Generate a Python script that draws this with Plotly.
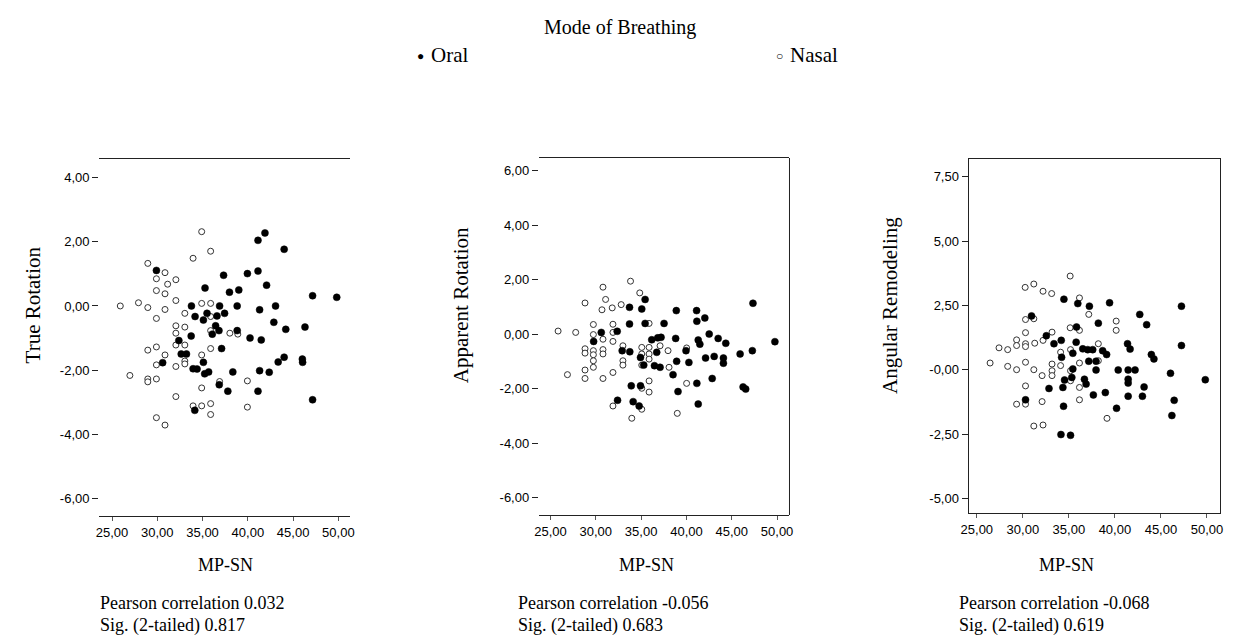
import plotly.graph_objects as go

# ---------------- data ----------------
p1_oral_x = [41.89,41.12,44.01,37.32,39.95,41.12,42.07,29.90,35.27,37.97,39.00,47.15,49.82,33.77,36.88,38.82,41.30,43.06,34.17,35.49,35.09,36.59,37.43,42.87,44.19,46.31,36.44,36.81,36.07,38.82,33.74,40.24,41.48,32.38,37.10,32.64,33.22,30.59,35.09,43.35,44.01,46.02,46.05,33.95,34.39,35.23,35.67,38.34,41.30,42.36,36.84,37.79,41.12,47.15,34.14]
p1_oral_y = [2.28,2.05,1.77,0.96,1.01,1.09,0.65,1.11,0.56,0.43,0.50,0.32,0.27,0.00,0.00,0.00,-0.12,0.00,-0.33,-0.23,-0.44,-0.31,-0.23,-0.51,-0.73,-0.66,-0.62,-0.77,-0.88,-0.77,-0.94,-1.00,-1.06,-1.08,-1.33,-1.50,-1.50,-1.77,-1.76,-1.75,-1.60,-1.66,-1.76,-1.96,-1.97,-2.12,-2.06,-2.06,-2.02,-2.07,-2.46,-2.66,-2.66,-2.93,-3.26]
p1_nasal_x = [34.90,35.89,33.95,28.95,30.85,29.90,32.05,31.14,29.90,30.85,32.05,25.91,27.92,28.95,30.85,34.90,35.89,33.04,29.90,35.89,32.05,33.04,32.05,35.89,38.01,38.89,32.05,33.04,28.95,29.90,30.85,34.90,35.89,29.90,33.04,33.04,32.05,26.97,28.95,28.95,29.90,36.88,39.95,34.90,32.05,33.95,34.90,35.89,35.89,39.95,29.90,30.85]
p1_nasal_y = [2.32,1.71,1.49,1.33,1.04,0.85,0.82,0.68,0.48,0.38,0.17,0.00,0.10,-0.05,-0.11,0.08,0.08,-0.23,-0.39,-0.33,-0.62,-0.66,-0.85,-0.77,-0.85,-0.88,-1.22,-1.22,-1.38,-1.28,-1.53,-1.53,-1.33,-1.84,-1.72,-1.81,-1.89,-2.17,-2.28,-2.37,-2.28,-2.36,-2.34,-2.56,-2.83,-3.12,-3.12,-3.05,-3.39,-3.16,-3.49,-3.72]

p2_oral_x = [35.44,33.72,35.07,38.88,41.12,41.15,42.03,47.34,33.72,35.44,37.53,30.60,32.36,29.76,36.17,36.83,37.20,38.81,41.30,41.48,42.51,43.50,44.34,32.91,33.75,36.72,34.93,35.29,36.47,37.09,38.92,39.95,40.27,42.11,43.06,44.08,44.08,45.92,47.27,49.76,38.52,39.07,41.15,42.84,33.91,34.93,32.40,34.12,34.78,41.30,46.25,46.54]
p2_oral_y = [1.28,0.99,0.93,0.87,0.87,0.48,0.60,1.14,0.38,0.40,0.40,0.07,0.11,-0.26,-0.20,-0.13,-0.11,-0.15,-0.21,-0.36,0.01,-0.15,-0.33,-0.60,-0.64,-0.66,-0.85,-1.13,-1.15,-1.21,-0.99,-0.60,-1.03,-0.87,-0.81,-0.87,-1.06,-0.72,-0.60,-0.27,-1.48,-2.10,-1.80,-1.62,-1.89,-1.89,-2.42,-2.47,-2.63,-2.56,-1.93,-2.01]
p2_nasal_x = [33.83,30.79,34.85,31.08,28.81,30.68,31.81,32.80,29.73,31.89,35.88,25.84,27.78,29.73,30.79,31.89,31.89,32.99,28.81,29.73,28.81,30.79,30.79,29.73,35.07,35.88,37.09,37.97,35.07,35.88,40.02,32.99,32.99,29.73,29.73,35.88,35.07,38.08,26.87,28.81,28.81,30.79,31.89,35.88,35.07,35.88,40.02,31.89,35.07,33.97,38.99]
p2_nasal_y = [1.95,1.73,1.52,1.28,1.15,0.90,0.97,1.09,0.36,0.37,0.40,0.12,0.07,-0.01,-0.18,0.07,-0.26,-0.42,-0.53,-0.60,-0.69,-0.56,-0.72,-0.75,-0.48,-0.48,-0.42,-0.60,-0.72,-0.72,-0.50,-0.97,-1.13,-0.97,-1.21,-0.91,-1.13,-1.21,-1.48,-1.31,-1.62,-1.62,-1.40,-1.71,-1.98,-2.12,-1.80,-2.63,-2.75,-3.08,-2.90]

p3_oral_x = [30.94,34.46,35.97,37.23,39.42,42.70,43.45,47.23,38.20,35.83,32.55,33.38,34.17,34.21,35.79,36.51,37.05,37.59,38.67,39.10,41.37,41.65,43.96,44.24,47.23,35.43,35.43,35.32,37.16,37.95,37.95,40.36,41.44,42.19,41.44,41.44,46.04,34.53,36.69,36.87,32.84,34.35,37.66,38.96,41.44,43.17,42.99,30.29,34.42,40.18,46.44,46.19,49.82,34.14,35.18]
p3_oral_y = [2.09,2.74,2.57,2.47,2.60,2.15,1.75,2.47,1.81,1.66,1.32,1.01,1.14,0.48,1.07,0.81,0.78,0.78,0.74,0.59,1.01,0.80,0.59,0.42,0.94,0.64,0.03,-0.30,0.33,0.33,-0.01,-0.01,-0.01,-0.01,-0.37,-0.52,-0.14,-0.40,-0.37,-0.56,-0.73,-0.69,-0.98,-0.89,-1.03,-0.67,-1.03,-1.17,-1.42,-1.50,-1.19,-1.78,-0.39,-2.52,-2.55]
p3_nasal_x = [35.14,30.25,31.19,32.19,33.13,36.15,37.16,30.29,31.19,40.14,40.14,30.29,33.17,35.14,36.15,27.41,28.35,29.32,30.29,31.29,32.19,29.32,30.29,34.10,35.18,38.20,26.44,28.35,29.32,30.29,31.19,32.09,33.17,33.17,33.17,34.10,35.18,36.15,38.20,35.18,36.15,36.15,30.29,32.09,29.32,30.29,31.19,32.19,39.14]
p3_nasal_y = [3.64,3.20,3.33,3.05,2.96,2.79,2.15,1.95,1.98,1.89,1.53,1.44,1.46,1.63,1.53,0.85,0.78,1.16,1.01,1.03,1.14,0.94,0.90,0.68,0.78,1.01,0.26,0.13,0.00,0.29,0.00,-0.23,0.22,-0.04,-0.23,0.16,-0.04,0.26,0.35,-0.43,-0.69,-1.17,-0.63,-1.24,-1.34,-1.34,-2.19,-2.15,-1.89]

x_tick_vals = [25, 30, 35, 40, 45, 50]
x_tick_text = ["25,00", "30,00", "35,00", "40,00", "45,00", "50,00"]
y1_tick_vals = [4, 2, 0, -2, -4, -6]
y1_tick_text = ["4,00", "2,00", "0,00", "-2,00", "-4,00", "-6,00"]
y2_tick_vals = [6, 4, 2, 0, -2, -4, -6]
y2_tick_text = ["6,00", "4,00", "2,00", "0,00", "-2,00", "-4,00", "-6,00"]
y3_tick_vals = [7.5, 5, 2.5, 0, -2.5, -5]
y3_tick_text = ["7,50", "5,00", "2,50", "-0,00", "-2,50", "-5,00"]

y_titles = ["True Rotation", "Apparent Rotation", "Angular Remodeling"]
x_title = "MP-SN"
pearson = ["0.032", "-0.056", "-0.068"]
sig = ["0.817", "0.683", "0.619"]
groups = ["Oral", "Nasal"]

# ---------------- figure ----------------
# the page body has an 8px default margin; the figure is sized to fit inside it
OFF = 8
W, H = 1243 - 2 * OFF, 644 - 2 * OFF
SERIF = "Liberation Serif"
SANS = "Liberation Sans"

def hshift(x):
    # small horizontal correction measured from the previous render
    return -6.0 * max(0.0, 1.0 - (x - 100.0) / 1100.0)

def px(x):
    return (x + hshift(x) - OFF) / W

def py(y):
    return 1 - (y - OFF) / H

fig = go.Figure()

panels = [
    (p1_oral_x, p1_oral_y, p1_nasal_x, p1_nasal_y),
    (p2_oral_x, p2_oral_y, p2_nasal_x, p2_nasal_y),
    (p3_oral_x, p3_oral_y, p3_nasal_x, p3_nasal_y),
]
for i, (ox, oy, nx, ny) in enumerate(panels):
    suf = "" if i == 0 else str(i + 1)
    fig.add_trace(go.Scatter(
        x=nx, y=ny, mode="markers", name=groups[1], showlegend=False,
        xaxis="x" + suf, yaxis="y" + suf,
        marker=dict(symbol="circle", size=6, color="white",
                    line=dict(color="#333333", width=1))))
    fig.add_trace(go.Scatter(
        x=ox, y=oy, mode="markers", name=groups[0], showlegend=False,
        xaxis="x" + suf, yaxis="y" + suf,
        marker=dict(symbol="circle", size=7, color="black",
                    line=dict(color="black", width=0.5))))

# pixel boxes of plot areas in the page: (left, right, top, bottom)
boxes = [(98, 350, 159, 516), (540, 792, 158, 515), (972, 1225, 159, 513)]
xranges = [[23.57, 51.26], [23.71, 51.37], [24.1, 51.43]]
yranges = [[-6.56, 4.59], [-6.63, 6.47], [-5.57, 8.19]]
yticks = [(y1_tick_vals, y1_tick_text), (y2_tick_vals, y2_tick_text), (y3_tick_vals, y3_tick_text)]

layout = dict(
    width=W, height=H, margin=dict(l=0, r=0, t=0, b=0),
    paper_bgcolor="white", plot_bgcolor="white", showlegend=False,
)
for i, (l, r, t, b) in enumerate(boxes):
    suf = "" if i == 0 else str(i + 1)
    layout["xaxis" + suf] = dict(
        domain=[px(l), px(r)], range=xranges[i], anchor="y" + suf,
        tickvals=x_tick_vals, ticktext=x_tick_text, ticks="outside", ticklen=4,
        tickcolor="#555555", tickwidth=1,
        showline=True, linecolor="#222222", linewidth=1, mirror=True,
        showgrid=False, zeroline=False,
        tickfont=dict(family=SANS, size=13, color="black"),
    )
    layout["yaxis" + suf] = dict(
        domain=[py(b), py(t)], range=yranges[i], anchor="x" + suf,
        tickvals=yticks[i][0], ticktext=yticks[i][1], ticks="outside", ticklen=6,
        tickcolor="#222222", tickwidth=1,
        showline=(i == 2), linecolor="#222222", linewidth=1, mirror=(i == 2),
        showgrid=False, zeroline=False,
        tickfont=dict(family=SANS, size=13, color="black"),
    )
fig.update_layout(**layout)

# right border line for the second panel
fig.add_shape(type="line", xref="x2 domain", yref="y2 domain",
              x0=1, x1=1, y0=0, y1=1, line=dict(color="#222222", width=1))

def ann(text, x, y, size, xanchor="center", angle=0):
    return dict(text=text, x=px(x), y=py(y), xref="paper", yref="paper",
                xanchor=xanchor, yanchor="middle", textangle=angle, showarrow=False,
                font=dict(family=SERIF, size=size, color="black"))

annotations = [
    ann("Mode of Breathing", 622, 27, 20),
    ann("\u25cf", 421, 56, 12),
    ann(groups[0], 430, 55, 21, xanchor="left"),
    ann("\u25cb", 782, 56, 12),
    ann(groups[1], 790, 55, 21, xanchor="left"),
]

ytitle_x = [32, 462, 893]
xtitle_x = [225, 648, 1070]
text_x = [97, 517, 960]
for i in range(3):
    annotations.append(ann(y_titles[i], ytitle_x[i], 305, 21, angle=-90))
    annotations.append(ann(x_title, xtitle_x[i], 565, 18))
    annotations.append(ann("Pearson correlation " + pearson[i], text_x[i], 603, 18, xanchor="left"))
    annotations.append(ann("Sig. (2-tailed) " + sig[i], text_x[i], 625, 18, xanchor="left"))
fig.update_layout(annotations=annotations)

fig.write_html("out.html")
